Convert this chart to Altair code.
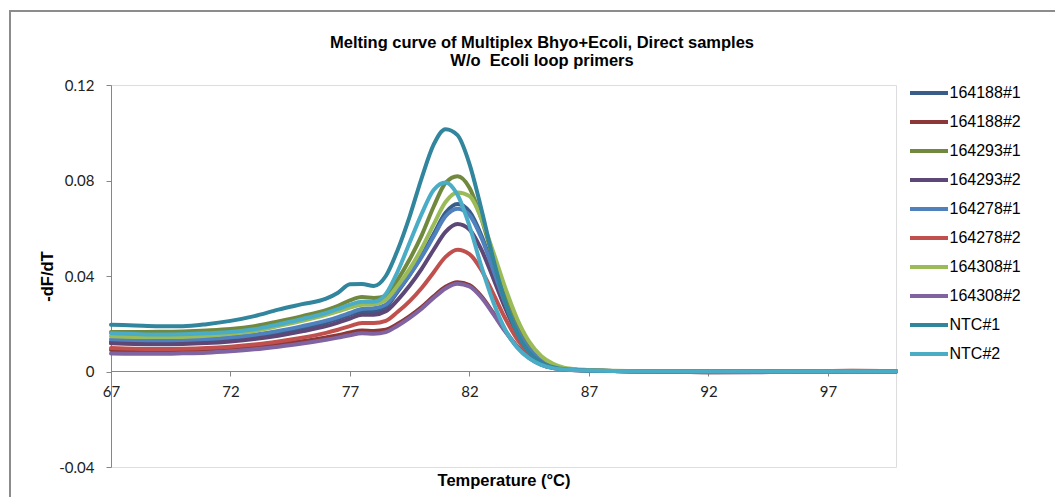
import altair as alt
import pandas as pd

temps = [67, 68, 69, 70, 71, 72, 73, 74, 75, 76, 76.5, 77, 77.5, 78, 78.5, 79, 79.5, 80, 80.5,
         81, 81.5, 82, 82.5, 83, 83.5, 84, 84.5, 85, 85.5, 86, 87, 88, 90, 92, 94, 96, 98, 99.85]

series_names = ["164188#1", "164188#2", "164293#1", "164293#2", "164278#1",
                "164278#2", "164308#1", "164308#2", "NTC#1", "NTC#2"]
series_colors = ["#385D8A", "#8C3836", "#71893F", "#5C4776", "#4F81BD",
                 "#C0504D", "#9BBB59", "#8064A2", "#31859C", "#4BACC6"]

s164188_1 = [.0125, .0122, .0121, .0122, .0126, .0133, .0144, .0160, .0180, .0205, .0220, .0238, .0252, .0252, .0270,
             .0335, .0405, .0485, .0575, .0665, .0702, .0670, .0570, .0430, .0290, .0175, .0095, .0048, .0023, .0011,
             .0005, .0002, .0000, -.0003, -.0002, .0000, .0000, .0000]
s164188_2 = [.0090, .0087, .0086, .0087, .0090, .0095, .0103, .0114, .0127, .0143, .0152, .0163, .0172, .0170, .0175,
             .0200, .0232, .0270, .0315, .0355, .0374, .0362, .0315, .0245, .0170, .0105, .0058, .0030, .0015, .0008,
             .0004, .0002, .0000, .0000, .0000, .0001, .0003, .0002]
s164293_1 = [.0165, .0165, .0166, .0168, .0172, .0178, .0190, .0210, .0232, .0257, .0275, .0298, .0312, .0308, .0315,
             .0385, .0470, .0570, .0690, .0790, .0818, .0770, .0640, .0470, .0310, .0185, .0100, .0050, .0024, .0012,
             .0005, .0002, .0001, .0000, .0000, .0002, .0001, .0000]
s164293_2 = [.0118, .0115, .0114, .0115, .0119, .0126, .0136, .0150, .0168, .0190, .0205, .0222, .0238, .0238, .0252,
             .0300, .0360, .0430, .0510, .0585, .0618, .0595, .0510, .0390, .0265, .0160, .0088, .0045, .0022, .0011,
             .0005, .0002, .0001, .0000, .0000, .0000, .0000, .0000]
s164278_1 = [.0135, .0132, .0131, .0132, .0136, .0143, .0154, .0170, .0190, .0213, .0228, .0245, .0262, .0265, .0280,
             .0340, .0405, .0480, .0565, .0650, .0682, .0655, .0560, .0425, .0285, .0172, .0093, .0047, .0022, .0011,
             .0005, .0002, .0001, .0000, .0000, .0000, .0000, .0000]
s164278_2 = [.0098, .0095, .0094, .0095, .0098, .0104, .0113, .0126, .0142, .0162, .0175, .0190, .0203, .0203, .0212,
             .0250, .0295, .0350, .0415, .0480, .0510, .0492, .0425, .0325, .0222, .0135, .0075, .0038, .0018, .0009,
             .0004, .0002, .0001, -.0003, -.0002, .0000, .0002, .0001]
s164308_1 = [.0148, .0145, .0144, .0145, .0150, .0158, .0170, .0190, .0212, .0237, .0252, .0268, .0280, .0282, .0300,
             .0360, .0430, .0515, .0615, .0710, .0750, .0735, .0640, .0500, .0350, .0220, .0125, .0065, .0032, .0015,
             .0006, .0003, .0001, .0000, .0000, .0002, .0002, .0001]
s164308_2 = [.0075, .0074, .0074, .0076, .0079, .0085, .0093, .0104, .0117, .0133, .0142, .0152, .0160, .0158, .0165,
             .0192, .0225, .0263, .0308, .0348, .0368, .0356, .0310, .0240, .0167, .0103, .0057, .0029, .0014, .0007,
             .0003, .0002, .0001, -.0002, -.0003, .0000, .0000, .0000]
ntc_1 = [.0196, .0193, .0190, .0190, .0198, .0212, .0232, .0259, .0282, .0305, .0330, .0365, .0367, .0358, .0400,
         .0510, .0650, .0810, .0950, .1015, .0990, .0870, .0680, .0470, .0290, .0160, .0080, .0038, .0018, .0009,
         .0004, .0002, .0001, .0000, .0000, .0000, .0000, .0000]
ntc_2 = [.0160, .0157, .0155, .0156, .0160, .0165, .0177, .0197, .0220, .0245, .0262, .0280, .0292, .0292, .0325,
         .0420, .0540, .0660, .0760, .0792, .0740, .0610, .0440, .0290, .0175, .0100, .0055, .0028, .0014, .0008,
         .0004, .0002, .0001, .0000, .0000, .0000, .0000, .0000]

all_series = [s164188_1, s164188_2, s164293_1, s164293_2, s164278_1,
              s164278_2, s164308_1, s164308_2, ntc_1, ntc_2]

x_ticks = [67, 72, 77, 82, 87, 92, 97]
y_ticks = [-0.04, 0, 0.04, 0.08, 0.12]

title_lines = ["Melting curve of Multiplex Bhyo+Ecoli, Direct samples", "W/o\u00a0 Ecoli loop primers"]

rows = []
for k, (name, vals) in enumerate(zip(series_names, all_series)):
    for t, v in zip(temps, vals):
        rows.append({"series": name, "temp": t, "val": v, "k": k})
df = pd.DataFrame(rows)

PLOT_W, PLOT_H = 785, 382

lines = alt.Chart(df).mark_line(strokeWidth=4, interpolate="monotone", strokeCap="round",
                                strokeJoin="round").encode(
    x=alt.X("temp:Q",
            scale=alt.Scale(domain=[67, 99.85], nice=False, zero=False),
            axis=alt.Axis(values=x_ticks, format="d", title="Temperature (°C)",
                          offset=-96, tickSize=5, labelPadding=8, grid=False, labelFlush=False,
                          domainColor="#868686", tickColor="#868686",
                          labelFont="Lato", labelFontSize=15, labelColor="#222222",
                          titleFont="Liberation Sans", titleFontSize=16.5, titleFontWeight="bold",
                          titleColor="#000000", titleY=109, titleBaseline="middle")),
    y=alt.Y("val:Q",
            scale=alt.Scale(domain=[-0.04, 0.12], nice=False, zero=False),
            axis=alt.Axis(values=y_ticks, title="-dF/dT", tickSize=5, labelPadding=12, grid=False,
                          labelFlush=False,
                          labelExpr="datum.value == 0 ? '0' : (datum.value < 0 ? '-' : '') + format(abs(datum.value), '.2f')",
                          domainColor="#868686", tickColor="#868686",
                          labelFont="Lato", labelFontSize=15, labelColor="#222222",
                          titleFont="Liberation Sans", titleFontSize=16.5, titleFontWeight="bold",
                          titleColor="#000000", titleX=-64, titleBaseline="middle")),
    color=alt.Color("series:N",
                    scale=alt.Scale(domain=series_names, range=series_colors),
                    legend=alt.Legend(title=None, orient="none", legendX=806.5, legendY=-3.5,
                                      symbolType="M-2,0H2", symbolSize=361, symbolStrokeWidth=4,
                                      labelOffset=9, rowPadding=9, padding=0,
                                      labelFont="Liberation Sans", labelFontSize=16,
                                      labelColor="#000000")),
    detail="series:N",
    order=alt.Order("temp:Q"),
)

one = pd.DataFrame({"a": [0]})

border = alt.Chart(one).mark_rect(
    filled=False, stroke="#8c8c8c", strokeWidth=2
).encode(
    x=alt.value(-101), y=alt.value(-74), x2=alt.value(1400), y2=alt.value(1000)
)

title1 = alt.Chart(one).mark_text(
    font="Liberation Sans", fontSize=16.5, fontWeight="bold", color="#000000",
    align="center", baseline="middle"
).encode(x=alt.value(431), y=alt.value(-42), text=alt.value(title_lines[0]))

title2 = alt.Chart(one).mark_text(
    font="Liberation Sans", fontSize=16.5, fontWeight="bold", color="#000000",
    align="center", baseline="middle"
).encode(x=alt.value(431), y=alt.value(-24), text=alt.value(title_lines[1]))

chart = alt.layer(border, title1, title2, lines).properties(
    width=PLOT_W, height=PLOT_H,
    padding={"left": 103, "top": 77, "right": 159, "bottom": 30},
    autosize=alt.AutoSizeParams(type="none"),
).configure_view(stroke=None).configure(background="white")

chart.save("out.html", embed_options={"renderer": "svg", "actions": False})
